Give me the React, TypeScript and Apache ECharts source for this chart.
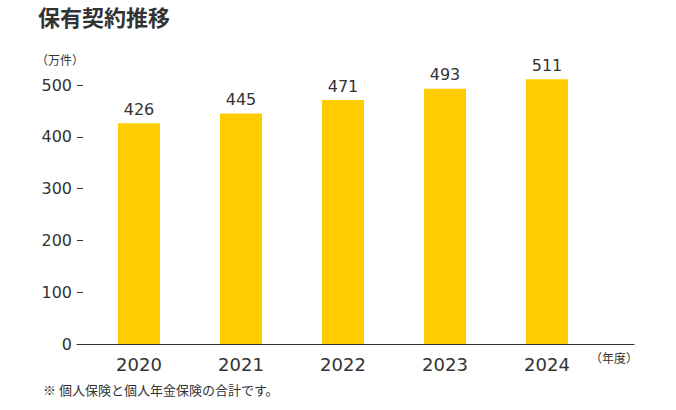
import React, { useEffect, useRef } from "react";
import * as echarts from "echarts";

const title = "保有契約推移";
const unitLabel = "（万件）";
const yearLabel = "（年度）";
const footnote = "※ 個人保険と個人年金保険の合計です。";
const categories = ["2020", "2021", "2022", "2023", "2024"];
const values = [426, 445, 471, 493, 511];
const yMax = 500;
const yInterval = 100;

const BAR = "#FFCC00";
const TEXT = "#333333";
const NUM_FONT = "DejaVu Sans";
const CJK_FONT = "'Noto Sans CJK JP'";

export default function App() {
  const ref = useRef<HTMLDivElement>(null);
  useEffect(() => {
    document.body.style.margin = "0";
    const chart = echarts.init(ref.current!, null, { renderer: "svg" });
    chart.setOption({
      animation: false,
      backgroundColor: "#ffffff",
      grid: [
        { left: 88, top: 85, width: 510, height: 259 },
        { left: 77, top: 85, width: 557, height: 259 },
      ],
      xAxis: [
        {
          type: "category",
          gridIndex: 0,
          data: categories,
          axisLine: { show: false },
          axisTick: { show: false },
          axisLabel: { color: TEXT, fontSize: 18, fontFamily: NUM_FONT, margin: 11 },
        },
        {
          type: "value",
          gridIndex: 1,
          min: 0,
          max: 1,
          axisLine: { show: true, lineStyle: { color: TEXT, width: 1 } },
          axisTick: { show: false },
          axisLabel: { show: false },
          splitLine: { show: false },
        },
      ],
      yAxis: [
        {
          type: "value",
          gridIndex: 0,
          min: 0,
          max: yMax,
          show: false,
          splitLine: { show: false },
        },
        {
          type: "value",
          gridIndex: 1,
          min: 0,
          max: yMax,
          interval: yInterval,
          axisLine: { show: false },
          axisTick: { show: true, inside: true, length: 6, lineStyle: { color: TEXT } },
          axisLabel: { color: TEXT, fontSize: 16, fontFamily: NUM_FONT, margin: 5 },
          splitLine: { show: false },
        },
      ],
      series: [
        {
          type: "bar",
          xAxisIndex: 0,
          yAxisIndex: 0,
          data: values,
          barWidth: 42,
          clip: false,
          itemStyle: { color: BAR },
          label: {
            show: true,
            position: "top",
            distance: 6,
            color: TEXT,
            fontSize: 16,
            fontFamily: NUM_FONT,
          },
        },
      ],
      graphic: [
        {
          type: "text",
          left: 38,
          top: 5,
          style: { text: title, fontSize: 22, fontWeight: "bold", fill: TEXT, fontFamily: CJK_FONT },
        },
        {
          type: "text",
          left: 36,
          top: 53,
          style: { text: unitLabel, fontSize: 12, fill: TEXT, fontFamily: CJK_FONT },
        },
        {
          type: "text",
          left: 590,
          top: 351,
          style: { text: yearLabel, fontSize: 12, fill: TEXT, fontFamily: CJK_FONT },
        },
        {
          type: "text",
          left: 43,
          top: 383,
          style: { text: footnote, fontSize: 13, fill: TEXT, fontFamily: CJK_FONT },
        },
      ],
    });
    return () => chart.dispose();
  }, []);
  return <div ref={ref} style={{ width: 676, height: 410 }} />;
}
